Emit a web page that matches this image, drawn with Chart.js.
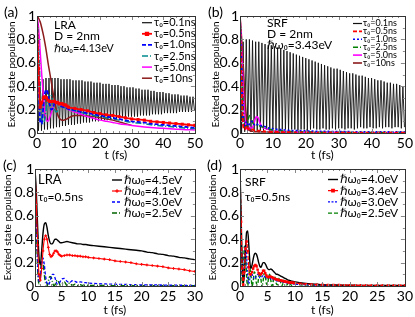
<!DOCTYPE html>
<html>
<head>
<meta charset="utf-8">
<script src="https://cdn.jsdelivr.net/npm/chart.js@4.4.1/dist/chart.umd.min.js"></script>
<style>
  body { margin: 0; background: #fff; width: 415px; height: 317px; overflow: hidden; position: relative; }
  .box { position: absolute; }
</style>
</head>
<body>
<div class="box" style="left:0;top:0;width:205px;height:165px"><canvas id="chartA"></canvas></div>
<div class="box" style="left:205px;top:0;width:210px;height:165px"><canvas id="chartB"></canvas></div>
<div class="box" style="left:0;top:155px;width:205px;height:162px"><canvas id="chartC"></canvas></div>
<div class="box" style="left:205px;top:155px;width:210px;height:162px"><canvas id="chartD"></canvas></div>
<script>
// ---- data: panels (a) and (b), t in fs ----
const halfPeriod = 0.475;  // spacing between a peak and the next trough of the tau0=0.1ns curve

const aBlackPeaks = [1.00, 0.44, 0.46, 0.47, 0.47, 0.47, 0.47, 0.47, 0.46, 0.46,
  0.46, 0.46, 0.45, 0.45, 0.45, 0.45, 0.44, 0.44, 0.44, 0.43,
  0.43, 0.43, 0.42, 0.42, 0.42, 0.41, 0.41, 0.41, 0.40, 0.40,
  0.39, 0.39, 0.39, 0.38, 0.38, 0.37, 0.37, 0.37, 0.36, 0.36,
  0.35, 0.35, 0.35, 0.34, 0.34, 0.33, 0.33, 0.33, 0.32, 0.32,
  0.32, 0.31, 0.31];
const aBlackTroughs = [0.02, 0.02, 0.03, 0.03, 0.04, 0.04, 0.05, 0.05, 0.06, 0.06,
  0.07, 0.07, 0.07, 0.08, 0.08, 0.09, 0.09, 0.09, 0.10, 0.10,
  0.10, 0.11, 0.11, 0.11, 0.12, 0.12, 0.12, 0.13, 0.13, 0.13,
  0.14, 0.14, 0.14, 0.14, 0.15, 0.15, 0.15, 0.15, 0.16, 0.16,
  0.16, 0.16, 0.17, 0.17, 0.17, 0.17, 0.17, 0.18, 0.18, 0.18,
  0.18, 0.18, 0.19];
const bBlackPeaks = [1.00, 0.78, 0.80, 0.80, 0.79, 0.78, 0.78, 0.77, 0.76, 0.75,
  0.75, 0.74, 0.73, 0.72, 0.71, 0.70, 0.69, 0.68, 0.67, 0.66,
  0.65, 0.64, 0.63, 0.62, 0.61, 0.60, 0.59, 0.58, 0.57, 0.56,
  0.55, 0.55, 0.54, 0.53, 0.52, 0.51, 0.51, 0.50, 0.49, 0.49,
  0.48, 0.47, 0.47, 0.46, 0.45, 0.45, 0.44, 0.43, 0.43, 0.42,
  0.42, 0.41, 0.40];
const bBlackTroughs = [0.00, 0.01, 0.02, 0.01, 0.02, 0.02, 0.01, 0.02, 0.03, 0.02,
  0.02, 0.03, 0.02, 0.03, 0.03, 0.02, 0.03, 0.03, 0.02, 0.03,
  0.03, 0.02, 0.03, 0.04, 0.03, 0.03, 0.04, 0.03, 0.03, 0.04,
  0.03, 0.04, 0.04, 0.03, 0.04, 0.04, 0.03, 0.04, 0.05, 0.04,
  0.04, 0.05, 0.04, 0.04, 0.05, 0.04, 0.05, 0.05, 0.04, 0.05,
  0.05, 0.04, 0.05];

const abT = [0, 0.5, 1, 1.5, 2, 2.5, 3, 3.5, 4, 4.5, 5, 5.5, 6, 6.5, 7, 7.5, 8, 8.5, 9, 9.5,
  10, 12, 14, 16, 18, 20, 22, 24, 26, 28, 30, 32, 34, 36, 38, 40, 42, 44, 46, 48, 50];

const aRed = [1.00, 0.55, 0.22, 0.26, 0.30, 0.31, 0.30, 0.28, 0.27, 0.27,
  0.27, 0.27, 0.26, 0.26, 0.25, 0.25, 0.25, 0.24, 0.24, 0.23,
  0.22, 0.21, 0.20, 0.19, 0.175, 0.165, 0.155, 0.15, 0.14, 0.13, 0.12,
  0.115, 0.11, 0.10, 0.095, 0.09, 0.085, 0.08, 0.075, 0.07, 0.065];
const aBlue = [1.00, 0.50, 0.10, 0.08, 0.22, 0.34, 0.37, 0.33, 0.25, 0.20,
  0.21, 0.25, 0.27, 0.26, 0.24, 0.23, 0.225, 0.22, 0.215, 0.21,
  0.205, 0.195, 0.18, 0.17, 0.16, 0.15, 0.14, 0.13, 0.12, 0.11, 0.10,
  0.095, 0.09, 0.08, 0.075, 0.07, 0.065, 0.06, 0.055, 0.05, 0.045];
const aTeal = [1.00, 0.75, 0.40, 0.15, 0.08, 0.12, 0.22, 0.30, 0.33, 0.32,
  0.27, 0.21, 0.18, 0.19, 0.22, 0.23, 0.225, 0.22, 0.215, 0.21,
  0.205, 0.19, 0.175, 0.16, 0.15, 0.14, 0.13, 0.12, 0.11, 0.10, 0.09,
  0.085, 0.08, 0.07, 0.065, 0.06, 0.055, 0.05, 0.045, 0.04, 0.038];
const aMagenta = [1.00, 0.90, 0.70, 0.50, 0.32, 0.18, 0.11, 0.10, 0.13, 0.17,
  0.21, 0.25, 0.27, 0.27, 0.26, 0.245, 0.235, 0.225, 0.215, 0.21,
  0.20, 0.18, 0.16, 0.14, 0.125, 0.11, 0.10, 0.09, 0.08, 0.072, 0.065,
  0.058, 0.052, 0.047, 0.043, 0.04, 0.036, 0.033, 0.03, 0.028, 0.026];
const aBrown = [1.00, 0.98, 0.95, 0.90, 0.84, 0.77, 0.69, 0.60, 0.52, 0.44,
  0.36, 0.28, 0.21, 0.16, 0.13, 0.115, 0.11, 0.11, 0.115, 0.12,
  0.13, 0.15, 0.15, 0.145, 0.14, 0.13, 0.12, 0.11, 0.095, 0.08, 0.065,
  null, null, null, null, null, null, null, null, null, null];

const bRed = [1.00, 0.40, 0.05, 0.03, 0.06, 0.03, 0.04, 0.03, 0.03, 0.02,
  0.02, 0.02, 0.02, 0.015, 0.015, 0.015, 0.01, 0.01, 0.01, 0.01,
  0.01, 0.008, 0.007, 0.006, 0.005, 0.005, 0.004, 0.004, 0.003, 0.003, 0.003,
  0.003, 0.002, 0.002, 0.002, 0.002, 0.002, 0.002, 0.002, 0.002, 0.002];
const bBlue = [1.00, 0.50, 0.08, 0.05, 0.10, 0.06, 0.08, 0.10, 0.08, 0.07,
  0.08, 0.07, 0.07, 0.06, 0.06, 0.055, 0.05, 0.045, 0.04, 0.04,
  0.035, 0.03, 0.025, 0.02, 0.02, 0.018, 0.016, 0.015, 0.014, 0.013, 0.012,
  0.012, 0.011, 0.011, 0.01, 0.01, 0.01, 0.01, 0.01, 0.01, 0.01];
const bGreen = [1.00, 0.60, 0.20, 0.05, 0.06, 0.12, 0.15, 0.12, 0.08, 0.07,
  0.07, 0.065, 0.06, 0.055, 0.05, 0.045, 0.04, 0.035, 0.03, 0.028,
  0.025, 0.02, 0.015, 0.012, 0.01, 0.01, 0.008, 0.007, 0.006, 0.005, 0.005,
  0.005, 0.004, 0.004, 0.004, 0.003, 0.003, 0.003, 0.003, 0.003, 0.003];
const bMagenta = [1.00, 0.70, 0.35, 0.12, 0.04, 0.03, 0.05, 0.04, 0.06, 0.11,
  0.14, 0.13, 0.09, 0.06, 0.045, 0.04, 0.035, 0.03, 0.028, 0.025,
  0.02, 0.015, 0.012, 0.01, 0.008, 0.006, 0.005, 0.004, 0.004, 0.003, 0.003,
  0.003, 0.002, 0.002, 0.002, 0.002, 0.002, 0.002, 0.002, 0.002, 0.002];
const bBrown = [1.00, 0.80, 0.55, 0.30, 0.12, 0.04, 0.02, 0.015, 0.015, 0.012,
  0.012, 0.01, 0.01, 0.01, 0.01, 0.008, 0.008, 0.008, 0.007, 0.007,
  0.006, 0.005, 0.005, 0.004, 0.004, 0.004, 0.003, 0.003, 0.003, 0.003, 0.003,
  0.003, 0.002, 0.002, 0.002, 0.002, 0.002, 0.002, 0.002, 0.002, 0.002];

const tauLabels = ['τ₀=0.1ns', 'τ₀=0.5ns', 'τ₀=1.0ns', 'τ₀=2.5ns', 'τ₀=5.0ns', 'τ₀=10ns'];

// ---- data: panel (c) ----
const cT = [0, 0.25, 0.5, 0.75, 1, 1.25, 1.5, 1.75, 2, 2.25, 2.5, 2.75, 3, 3.25, 3.5, 3.75, 4, 4.25, 4.5, 4.75, 5,
  5.5, 6, 6.5, 7, 7.5, 8, 8.5, 9, 9.5, 10,
  11, 12, 13, 14, 15, 16, 17, 18, 19, 20, 21, 22, 23, 24, 25, 26, 27, 28, 29, 30];
const cBlack = [1.00, 0.80, 0.50, 0.25, 0.18, 0.30, 0.45, 0.53, 0.54, 0.50,
  0.43, 0.38, 0.36, 0.36, 0.38, 0.40, 0.40, 0.39, 0.38, 0.37, 0.37,
  0.375, 0.38, 0.375, 0.37, 0.365, 0.36, 0.36, 0.355, 0.355, 0.35,
  0.345, 0.34, 0.335, 0.33, 0.325, 0.32, 0.315, 0.31, 0.305, 0.30,
  0.29, 0.285, 0.275, 0.27, 0.26, 0.255, 0.245, 0.24, 0.232, 0.225];
const cRed = [1.00, 0.70, 0.35, 0.10, 0.05, 0.15, 0.30, 0.40, 0.43, 0.40,
  0.33, 0.27, 0.25, 0.26, 0.28, 0.30, 0.30, 0.29, 0.27, 0.26, 0.255,
  0.26, 0.265, 0.265, 0.26, 0.26, 0.255, 0.255, 0.25, 0.25, 0.245,
  0.24, 0.235, 0.23, 0.225, 0.215, 0.21, 0.205, 0.20, 0.19, 0.185,
  0.18, 0.175, 0.17, 0.165, 0.155, 0.15, 0.145, 0.14, 0.13, 0.125];
const cBlue = [1.00, 0.60, 0.20, 0.04, 0.08, 0.20, 0.24, 0.18, 0.08, 0.02,
  0.01, 0.03, 0.07, 0.10, 0.10, 0.07, 0.03, 0.015, 0.02, 0.04, 0.06,
  0.065, 0.04, 0.03, 0.045, 0.04, 0.03, 0.035, 0.03, 0.028, 0.025,
  0.022, 0.02, 0.018, 0.016, 0.015, 0.014, 0.013, 0.012, 0.011, 0.01,
  0.01, 0.009, 0.009, 0.008, 0.008, 0.007, 0.007, 0.006, 0.006, 0.005];
const cGreen = [1.00, 0.55, 0.15, 0.02, 0.10, 0.20, 0.20, 0.10, 0.02, 0.00,
  0.04, 0.08, 0.08, 0.04, 0.005, 0.01, 0.04, 0.05, 0.03, 0.005, 0.01,
  0.035, 0.005, 0.025, 0.005, 0.015, 0.005, 0.01, 0.005, 0.008, 0.005,
  0.004, 0.004, 0.004, 0.003, 0.003, 0.003, 0.003, 0.003, 0.003, 0.003,
  0.003, 0.003, 0.003, 0.003, 0.003, 0.003, 0.003, 0.003, 0.003, 0.003];
const cLabels = ['ℏω₀=4.5eV', 'ℏω₀=4.1eV', 'ℏω₀=3.0eV', 'ℏω₀=2.5eV'];

// ---- data: panel (d) ----
const dT = [0, 0.2, 0.4, 0.6, 0.8, 1, 1.2, 1.4, 1.6, 1.8, 2, 2.2, 2.4, 2.6, 2.8, 3, 3.2, 3.4, 3.6, 3.8,
  4, 4.2, 4.4, 4.6, 4.8, 5, 5.2, 5.4, 5.6, 5.8, 6, 6.2, 6.4, 6.6, 6.8, 7, 7.2, 7.4, 7.6, 7.8,
  8, 8.2, 8.4, 8.6, 8.8, 9, 9.2, 9.4, 9.6, 9.8, 10,
  11, 12, 13, 14, 15, 16, 17, 18, 19, 20, 21, 22, 23, 24, 25, 26, 27, 28, 29, 30];
const dBlack = [1.00, 0.60, 0.20, 0.02, 0.10, 0.30, 0.46, 0.47, 0.35, 0.20,
  0.15, 0.18, 0.23, 0.27, 0.28, 0.27, 0.24, 0.20, 0.17, 0.16,
  0.18, 0.20, 0.20, 0.19, 0.17, 0.15, 0.14, 0.14, 0.145, 0.14,
  0.13, 0.12, 0.11, 0.10, 0.10, 0.095, 0.09, 0.085, 0.08, 0.075,
  0.07, 0.065, 0.06, 0.055, 0.05, 0.048, 0.045, 0.042, 0.04, 0.037, 0.035,
  0.028, 0.022, 0.018, 0.015, 0.012, 0.01, 0.009, 0.008, 0.007, 0.006,
  0.006, 0.005, 0.005, 0.005, 0.004, 0.004, 0.004, 0.004, 0.004, 0.004];
const dRed = [1.00, 0.55, 0.15, 0.01, 0.12, 0.32, 0.38, 0.30, 0.16, 0.10,
  0.10, 0.12, 0.15, 0.17, 0.18, 0.17, 0.14, 0.11, 0.10, 0.10,
  0.11, 0.13, 0.13, 0.11, 0.09, 0.08, 0.075, 0.08, 0.08, 0.075,
  0.07, 0.065, 0.06, 0.058, 0.055, 0.052, 0.05, 0.048, 0.045, 0.043,
  0.04, 0.038, 0.036, 0.034, 0.032, 0.03, 0.029, 0.028, 0.027, 0.026, 0.025,
  0.02, 0.016, 0.013, 0.011, 0.01, 0.009, 0.008, 0.008, 0.007, 0.007,
  0.006, 0.006, 0.006, 0.005, 0.005, 0.005, 0.005, 0.005, 0.005, 0.005];
const dBlue = [1.00, 0.50, 0.08, 0.05, 0.25, 0.35, 0.25, 0.08, 0.02, 0.06,
  0.10, 0.10, 0.08, 0.06, 0.07, 0.09, 0.10, 0.09, 0.07, 0.07,
  0.08, 0.09, 0.085, 0.07, 0.065, 0.07, 0.075, 0.07, 0.06, 0.055,
  0.055, 0.055, 0.05, 0.045, 0.04, 0.04, 0.04, 0.036, 0.033, 0.03,
  0.03, 0.028, 0.026, 0.024, 0.022, 0.02, 0.02, 0.018, 0.017, 0.016, 0.015,
  0.012, 0.01, 0.008, 0.007, 0.006, 0.005, 0.005, 0.004, 0.004, 0.004,
  0.004, 0.003, 0.003, 0.003, 0.003, 0.003, 0.003, 0.003, 0.003, 0.003];
const dGreen = [1.00, 0.45, 0.02, 0.12, 0.34, 0.30, 0.08, 0.00, 0.08, 0.15,
  0.09, 0.00, 0.04, 0.12, 0.10, 0.02, 0.01, 0.08, 0.12, 0.06,
  0.00, 0.04, 0.11, 0.09, 0.02, 0.01, 0.07, 0.10, 0.05, 0.00,
  0.03, 0.08, 0.07, 0.02, 0.01, 0.05, 0.07, 0.03, 0.00, 0.02,
  0.05, 0.04, 0.01, 0.01, 0.03, 0.035, 0.015, 0.005, 0.015, 0.025, 0.02,
  0.01, 0.008, 0.006, 0.005, 0.004, 0.004, 0.004, 0.003, 0.003, 0.003,
  0.003, 0.003, 0.003, 0.003, 0.003, 0.003, 0.003, 0.003, 0.003, 0.003];
const dLabels = ['ℏω₀=4.0eV', 'ℏω₀=3.4eV', 'ℏω₀=3.0eV', 'ℏω₀=2.5eV'];

const FONT = 'Lato, "DejaVu Sans", sans-serif';
Chart.defaults.font.family = FONT;

function series(label, xs, ys, color, width, dash, extra) {
    return Object.assign({
        label: label,
        data: ys.map((y, i) => ({ x: xs[i], y: y })),
        borderColor: color,
        backgroundColor: color,
        borderWidth: width,
        borderDash: dash || [],
        pointRadius: 0,
        cubicInterpolationMode: 'monotone',
        fill: false
    }, extra || {});
}

// rapid oscillation: alternate peaks and troughs
function zigzag(label, peaks, troughs) {
    const pts = [];
    peaks.forEach((p, j) => {
        pts.push({ x: 2 * j * halfPeriod, y: p });
        pts.push({ x: (2 * j + 1) * halfPeriod, y: troughs[j] });
    });
    return { label: label, data: pts, borderColor: '#111', borderWidth: 0.9, pointRadius: 0, tension: 0, order: 10 };
}

// box frame with inward ticks
const framePlugin = {
    id: 'frame',
    afterDraw(chart, args, o) {
        const { ctx, chartArea: a, scales: { x, y } } = chart;
        ctx.save();
        ctx.lineWidth = 1;
        ctx.strokeStyle = '#888';
        ctx.beginPath();
        for (let v = 0; v <= x.max + 1e-9; v += o.xMinor) {
            const px = Math.round(x.getPixelForValue(v)) + 0.5;
            const len = Math.abs(v / o.xMajor - Math.round(v / o.xMajor)) < 1e-6 ? 4 : 2;
            ctx.moveTo(px, a.bottom); ctx.lineTo(px, a.bottom - len);
            ctx.moveTo(px, a.top); ctx.lineTo(px, a.top + len);
        }
        for (let v = 0; v <= 1 + 1e-9; v += 0.1) {
            const py = Math.round(y.getPixelForValue(v)) + 0.5;
            const len = Math.abs(v / 0.2 - Math.round(v / 0.2)) < 1e-6 ? 4 : 2;
            ctx.moveTo(a.left, py); ctx.lineTo(a.left + len, py);
            ctx.moveTo(a.right, py); ctx.lineTo(a.right - len, py);
        }
        ctx.stroke();
        ctx.strokeStyle = '#333';
        ctx.strokeRect(Math.round(a.left) + 0.5, Math.round(a.top) + 0.5, Math.round(a.width), Math.round(a.height));
        ctx.restore();
    }
};

const legendPlugin = {
    id: 'boxLegend',
    afterDraw(chart, args, o) {
        const ctx = chart.ctx;
        ctx.save();
        ctx.font = o.size + 'px ' + FONT;
        ctx.textBaseline = 'middle';
        chart.data.datasets.forEach((ds, i) => {
            const y = o.y + i * o.row;
            ctx.strokeStyle = ds.borderColor;
            ctx.lineWidth = Math.max(ds.borderWidth, 1.2);
            ctx.setLineDash(ds.borderDash || []);
            ctx.beginPath();
            ctx.moveTo(o.x, y);
            ctx.lineTo(o.x + o.len, y);
            ctx.stroke();
            ctx.setLineDash([]);
            if (ds.legendMarker && Chart.helpers && Chart.helpers.drawPoint) {
                ctx.fillStyle = ds.borderColor;
                Chart.helpers.drawPoint(ctx, { pointStyle: ds.pointStyle, radius: 1.8, borderWidth: 1, rotation: 0 },
                    o.x + o.len / 2, y);
            }
            ctx.fillStyle = '#000';
            ctx.fillText(ds.label, o.x + o.len + o.gap, y);
        });
        ctx.restore();
    }
};

const notesPlugin = {
    id: 'notes',
    afterDraw(chart, args, o) {
        const ctx = chart.ctx;
        ctx.save();
        ctx.fillStyle = '#000';
        ctx.textBaseline = 'middle';
        o.items.forEach(n => {
            ctx.font = n.size + 'px ' + FONT;
            ctx.fillText(n.text, n.x, n.y);
        });
        ctx.restore();
    }
};

Chart.register(framePlugin, legendPlugin, notesPlugin);

function makeChart(id, cfg) {
    new Chart(document.getElementById(id), {
        type: 'line',
        data: { datasets: cfg.datasets },
        options: {
            responsive: true,
            maintainAspectRatio: false,
            animation: false,
            devicePixelRatio: 1,
            layout: { padding: { top: cfg.top, right: cfg.right, left: 0, bottom: 0 } },
            scales: {
                x: {
                    type: 'linear', min: 0, max: cfg.xMax,
                    grid: { display: false, drawTicks: false },
                    border: { display: false },
                    ticks: { stepSize: cfg.xStep, autoSkip: false, maxRotation: 0, padding: 2, color: '#000', font: { size: 14 } },
                    title: { display: true, text: 't (fs)', color: '#000', font: { size: 12 }, padding: { top: 0, bottom: cfg.xTitlePad } },
                    afterFit(s) { s.height = cfg.xAxisH; }
                },
                y: {
                    min: 0, max: 1,
                    grid: { display: false, drawTicks: false },
                    border: { display: false },
                    ticks: {
                        stepSize: 0.2, padding: 1, color: '#000', font: { size: 14 },
                        callback: v => (v === 0 ? '0' : v === 1 ? '1' : v.toFixed(1))
                    },
                    title: { display: true, text: 'Excited state population', color: '#000', font: { size: 10 }, padding: { top: cfg.yTitlePad, bottom: 0 } },
                    afterFit(s) { s.width = cfg.yAxisW; }
                }
            },
            plugins: {
                legend: { display: false },
                tooltip: { enabled: false },
                frame: { xMajor: cfg.xStep, xMinor: cfg.xStep / 5 },
                boxLegend: cfg.legend,
                notes: { items: cfg.notes }
            }
        }
    });
}

// (a) LRA
makeChart('chartA', {
    top: 16, right: 10, yAxisW: 37, xAxisH: 32, xMax: 50, xStep: 10, xTitlePad: 3, yTitlePad: 6,
    datasets: [
        zigzag(tauLabels[0], aBlackPeaks, aBlackTroughs),
        series(tauLabels[1], abT, aRed, '#ff0000', 1.8, [], { pointRadius: 0.9, pointStyle: 'rect', legendMarker: true, order: 0 }),
        series(tauLabels[2], abT, aBlue, '#0000ff', 1.8, [4, 2], { order: 1 }),
        series(tauLabels[3], abT, aTeal, '#008b8b', 1.5, [6, 2, 1, 2], { order: 2 }),
        series(tauLabels[4], abT, aMagenta, '#ff00ff', 1.5, [], { order: 3 }),
        series(tauLabels[5], abT, aBrown, '#8b1a1a', 1.5, [], { order: 4 })
    ],
    legend: { x: 142, y: 22.7, row: 11.1, len: 10, gap: 2, size: 11 },
    notes: [
        { text: '(a)', x: 4, y: 12, size: 14 },
        { text: 'LRA', x: 54, y: 25, size: 12 },
        { text: 'D = 2nm', x: 54, y: 36, size: 12 },
        { text: 'ℏω₀=4.13eV', x: 54, y: 48, size: 11 }
    ]
});

// (b) SRF
makeChart('chartB', {
    top: 16, right: 8, yAxisW: 35, xAxisH: 32, xMax: 50, xStep: 10, xTitlePad: 3, yTitlePad: 5,
    datasets: [
        zigzag(tauLabels[0], bBlackPeaks, bBlackTroughs),
        series(tauLabels[1], abT, bRed, '#ff0000', 1.8, [4, 2], { order: 0 }),
        series(tauLabels[2], abT, bBlue, '#0000ff', 1.6, [2, 2], { order: 1 }),
        series(tauLabels[3], abT, bGreen, '#008000', 1.6, [5, 2, 1, 2], { order: 2 }),
        series(tauLabels[4], abT, bMagenta, '#ff00ff', 1.6, [], { order: 3 }),
        series(tauLabels[5], abT, bBrown, '#8b1a1a', 1.6, [], { order: 4 })
    ],
    legend: { x: 148, y: 23.5, row: 7.9, len: 9, gap: 1, size: 9 },
    notes: [
        { text: '(b)', x: 3, y: 12, size: 14 },
        { text: 'SRF', x: 62, y: 23, size: 12 },
        { text: 'D = 2nm', x: 62, y: 34, size: 12 },
        { text: 'ℏω₀=3.43eV', x: 62, y: 45, size: 12 }
    ]
});

// (c) LRA, tau0 = 0.5ns
makeChart('chartC', {
    top: 14, right: 8, yAxisW: 35, xAxisH: 31, xMax: 30, xStep: 5, xTitlePad: 0, yTitlePad: 2,
    datasets: [
        series(cLabels[0], cT, cBlack, '#000000', 1.4, [], { order: 1 }),
        series(cLabels[1], cT, cRed, '#ff0000', 1.1, [], { pointRadius: 1.4, pointStyle: 'cross', pointBorderWidth: 1, legendMarker: true, order: 0 }),
        series(cLabels[2], cT, cBlue, '#0000ff', 1.3, [3, 2], { order: 2 }),
        series(cLabels[3], cT, cGreen, '#006400', 1.5, [5, 2, 1, 2], { order: 3 })
    ],
    legend: { x: 112, y: 25, row: 11, len: 10, gap: 2, size: 12 },
    notes: [
        { text: '(c)', x: 3, y: 10, size: 14 },
        { text: 'LRA', x: 38, y: 25, size: 13 },
        { text: 'τ₀=0.5ns', x: 38, y: 42, size: 12 }
    ]
});

// (d) SRF, tau0 = 0.5ns
makeChart('chartD', {
    top: 14, right: 8, yAxisW: 35, xAxisH: 31, xMax: 30, xStep: 5, xTitlePad: 0, yTitlePad: 2,
    datasets: [
        series(dLabels[0], dT, dBlack, '#000000', 1.4, [], { order: 1 }),
        series(dLabels[1], dT, dRed, '#ff0000', 1.2, [4, 2], { pointRadius: 0.9, pointStyle: 'rect', legendMarker: true, order: 0 }),
        series(dLabels[2], dT, dBlue, '#0000ff', 1.2, [2, 1.5], { order: 2 }),
        series(dLabels[3], dT, dGreen, '#008000', 1.4, [4, 2], { order: 3 })
    ],
    legend: { x: 123, y: 24.5, row: 11.2, len: 10, gap: 2, size: 12 },
    notes: [
        { text: '(d)', x: 2, y: 10, size: 14 },
        { text: 'SRF', x: 40, y: 27, size: 12 },
        { text: 'τ₀=0.5ns', x: 40, y: 42, size: 12 }
    ]
});
</script>
</body>
</html>
